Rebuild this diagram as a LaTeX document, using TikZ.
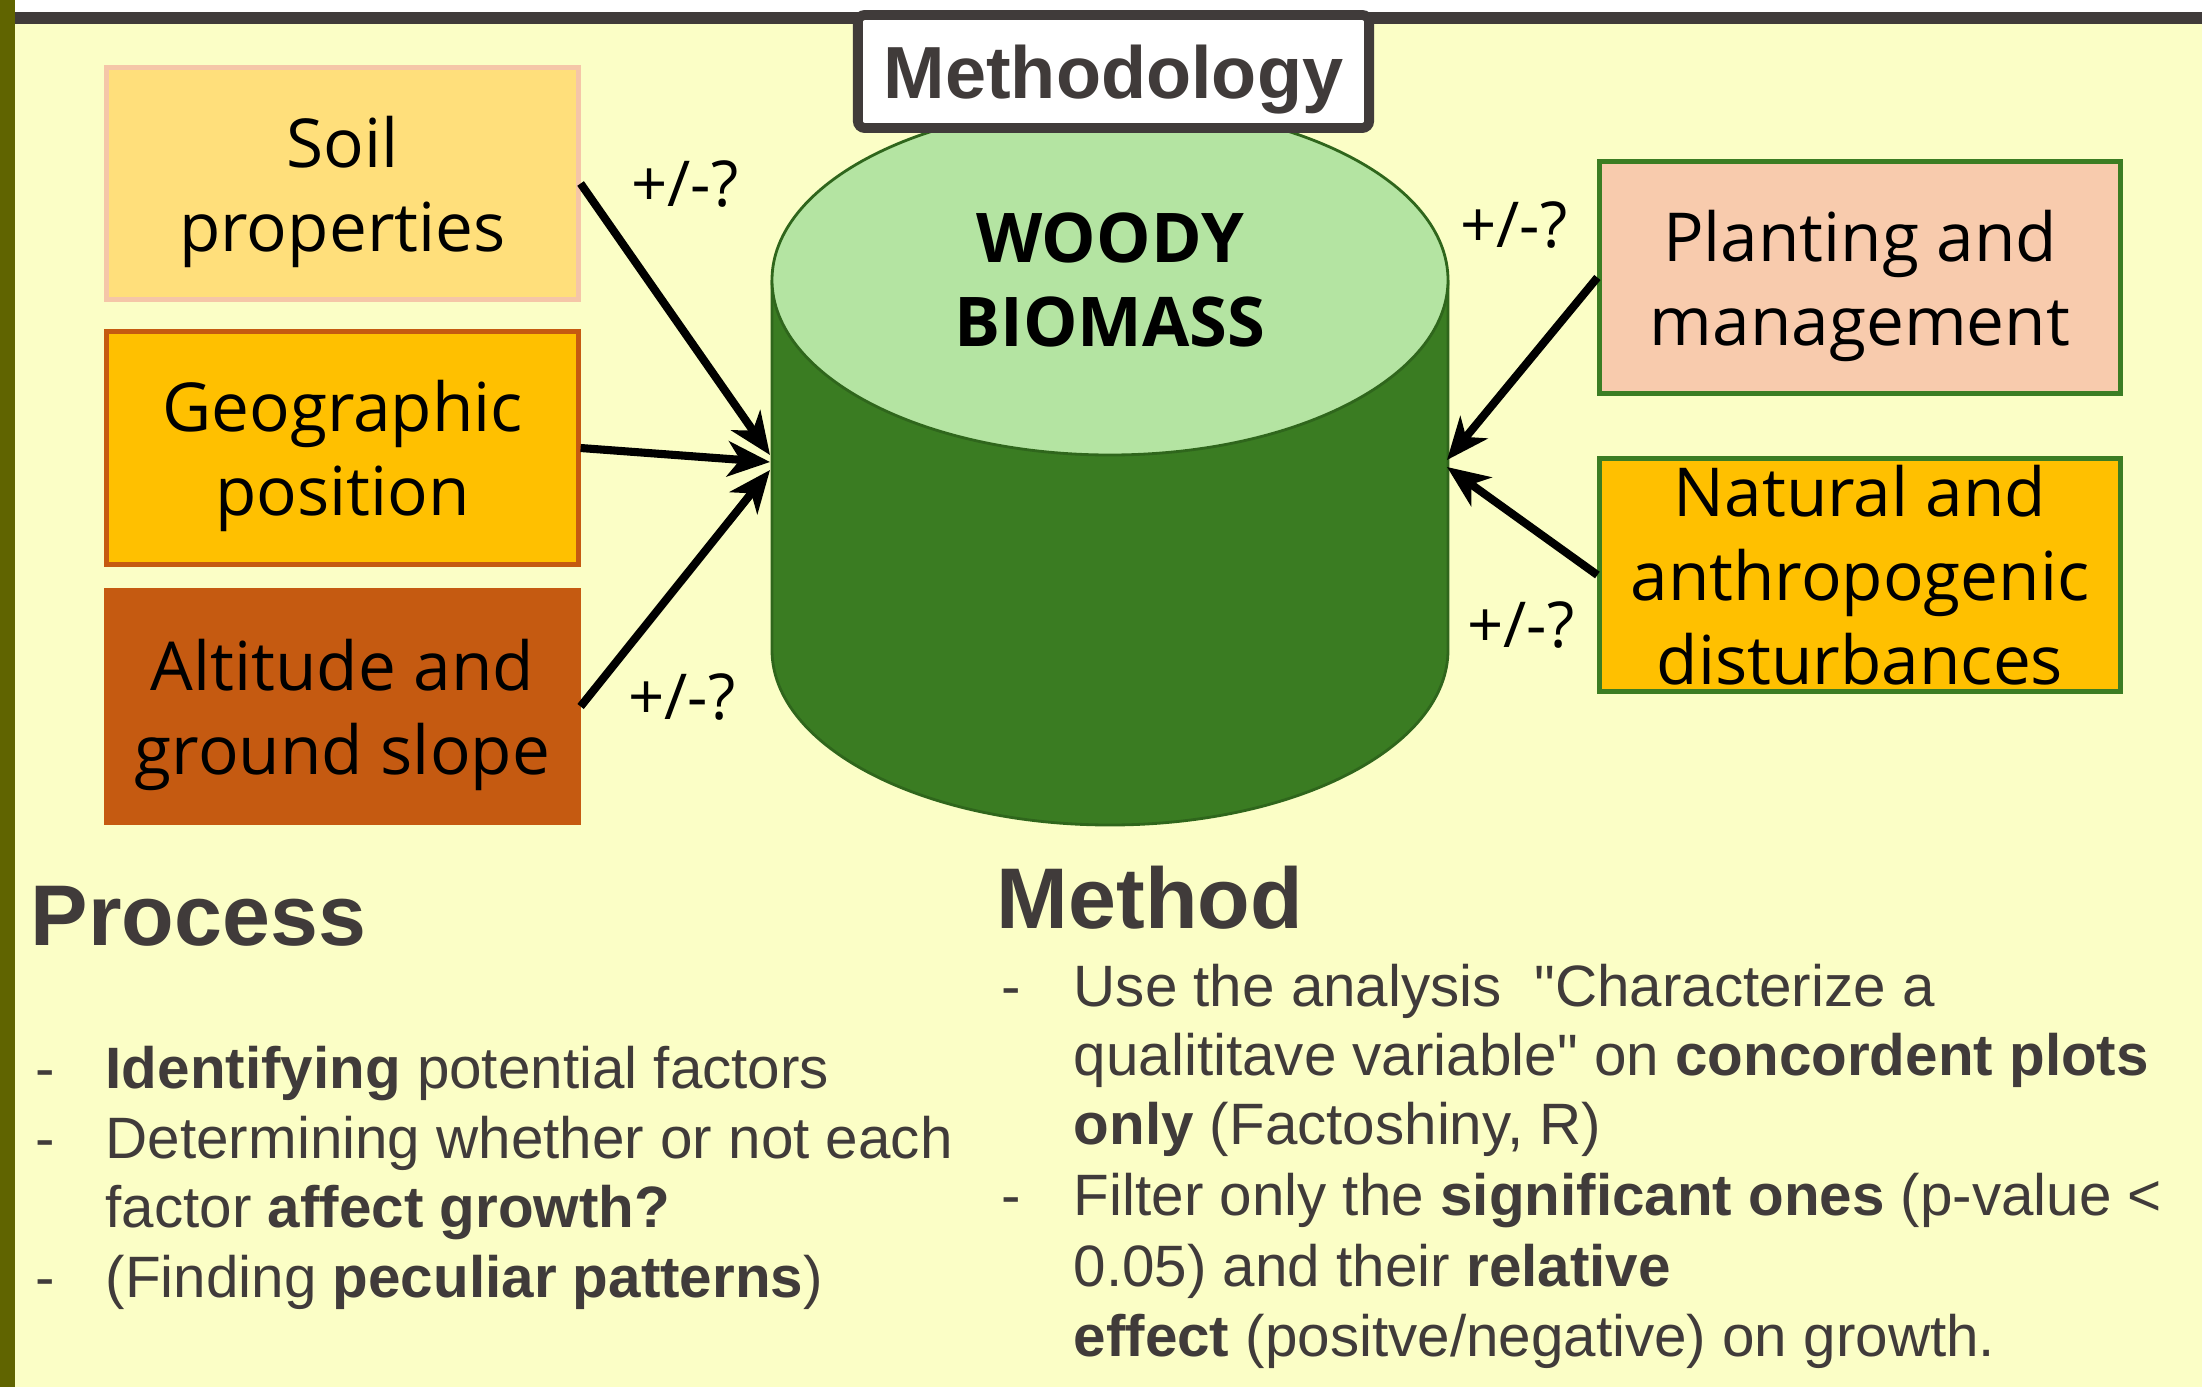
\documentclass[tikz,border=0pt]{standalone}
\usepackage{fontspec}
\setmainfont{Liberation Sans}
\newfontfamily\boxfont{Open Sans}
\usepackage{tikz}
\usetikzlibrary{arrows.meta}
\definecolor{paper}{HTML}{FBFEC6}
\definecolor{olivebar}{HTML}{606400}
\definecolor{inkgray}{HTML}{403B3A}
\definecolor{soilfill}{HTML}{FFDF7B}
\definecolor{soilline}{HTML}{F5C6A8}
\definecolor{amber}{HTML}{FFC000}
\definecolor{rust}{HTML}{C55A11}
\definecolor{peach}{HTML}{F8CBAD}
\definecolor{leafline}{HTML}{3B7D23}
\definecolor{cyltop}{HTML}{B4E4A2}
\definecolor{cylbody}{HTML}{3A7C22}
\definecolor{cylline}{HTML}{2F661C}

\begin{document}
\begin{tikzpicture}[x=0.01cm, y=-0.01cm,
      factor/.style = {
        rectangle, draw, line width=1.4pt, align=center, inner sep=0pt, text depth=0pt,
        minimum height=2.32cm, font=\boxfont\fontsize{19.2pt}{23.9pt}\selectfont },
      factor-left/.style = { factor, minimum width=4.71cm },
      factor-right/.style = { factor, minimum width=5.2cm },
      line/.style = { draw, line width=2.3pt, -{Stealth[length=12pt, width=10pt, inset=3.5pt]} },
      sign/.style = { font=\boxfont\fontsize{18pt}{21pt}\selectfont },
      heading/.style = { anchor=base west, inner sep=0pt, text=inkgray,
        font=\bfseries\fontsize{24.5pt}{29pt}\selectfont },
      bullet/.style = { anchor=base west, inner sep=0pt, text=inkgray,
        font=\fontsize{16.6pt}{20pt}\selectfont }]
    \useasboundingbox (0,0) rectangle (2202,1387);
    % frame of the slide
    \fill[paper] (15,24) rectangle (2202,1387);
    \fill[inkgray] (15,12) rectangle (2202,24);
    \fill[olivebar] (0,0) rectangle (15,1387);
    % the biomass cylinder
    \path[fill=cylbody, draw=cylline, line width=0.8pt] (772,280) -- (772,650)
      arc[start angle=180, end angle=0, x radius=338, y radius=175] -- (1448,280);
    \path[fill=cyltop, draw=cylline, line width=0.8pt] (1110,280) ellipse [x radius=338, y radius=175];
    \node [align=center, font=\boxfont\bfseries\fontsize{19.5pt}{23.9pt}\selectfont] (biomass) at (1110,280) {WOODY\\BIOMASS};
    \node [fill=white, draw=inkgray, line width=2.8pt, rounded corners=2pt, minimum width=5.11cm,
      minimum height=1.13cm, inner sep=0pt, text depth=0pt, text=inkgray,
      font=\bfseries\fontsize{21pt}{25pt}\selectfont] (title) at (1113.5,71.5) {Methodology};
    % factors
    \node [factor-left, fill=soilfill, draw=soilline] (soil) at (342.5,183.5) {Soil\\properties};
    \node [factor-left, fill=amber, draw=rust] (geo) at (342.5,448) {Geographic\\position};
    \node [factor-left, fill=rust, draw=rust] (alt) at (342.5,706.5) {Altitude and\\ground slope};
    \node [factor-right, fill=peach, draw=leafline] (plant) at (1860,277.5) {Planting and\\management};
    \node [factor-right, fill=amber, draw=leafline] (dist) at (1860,575) {Natural and\\anthropogenic\\disturbances};
    \coordinate (inSoil) at (770,455);
    \coordinate (inGeo) at (770,462);
    \coordinate (inAlt) at (770,470);
    \coordinate (inPlant) at (1447,460);
    \coordinate (inDist) at (1447,467);
    \draw[line] (soil.east) -- (inSoil);
    \draw[line] (geo.east) -- (inGeo);
    \draw[line] (alt.east) -- (inAlt);
    \draw[line] (plant.west) -- (inPlant);
    \draw[line] (dist.west) -- (inDist);
    \node [sign] (signSoil) at (685,184) {+/-?};
    \node [sign] (signAlt) at (682,697) {+/-?};
    \node [sign] (signPlant) at (1514,225) {+/-?};
    \node [sign] (signDist) at (1521,625) {+/-?};
    % process and method
    \node [heading] (process) at (30,945) {Process};
    \node [bullet] (proc1) at (35,1088) {\makebox[0.7cm][l]{-}\textbf{Identifying} potential factors};
    \node [bullet] (proc2) at (35,1158) {\makebox[0.7cm][l]{-}Determining whether or not each};
    \node [bullet] (proc3) at (105,1227) {factor \textbf{affect growth?}};
    \node [bullet] (proc4) at (35,1297) {\makebox[0.7cm][l]{-}(Finding \textbf{peculiar patterns})};
    \node [heading] (method) at (996,928) {Method};
    \node [bullet] (meth1) at (1001,1006) {\makebox[0.72cm][l]{-}Use the analysis\ \ \textquotedbl Characterize a};
    \node [bullet] (meth2) at (1073,1075) {qualititave variable\textquotedbl{} on \textbf{concordent plots}};
    \node [bullet] (meth3) at (1073,1144) {\textbf{only} (Factoshiny, R)};
    \node [bullet] (meth4) at (1001,1215) {\makebox[0.72cm][l]{-}Filter only the \textbf{significant ones} (p-value <};
    \node [bullet] (meth5) at (1073,1286) {0.05) and their \textbf{relative}};
    \node [bullet] (meth6) at (1073,1356) {\textbf{effect} (positve/negative)\ on growth.};
  \end{tikzpicture}
\end{document}
